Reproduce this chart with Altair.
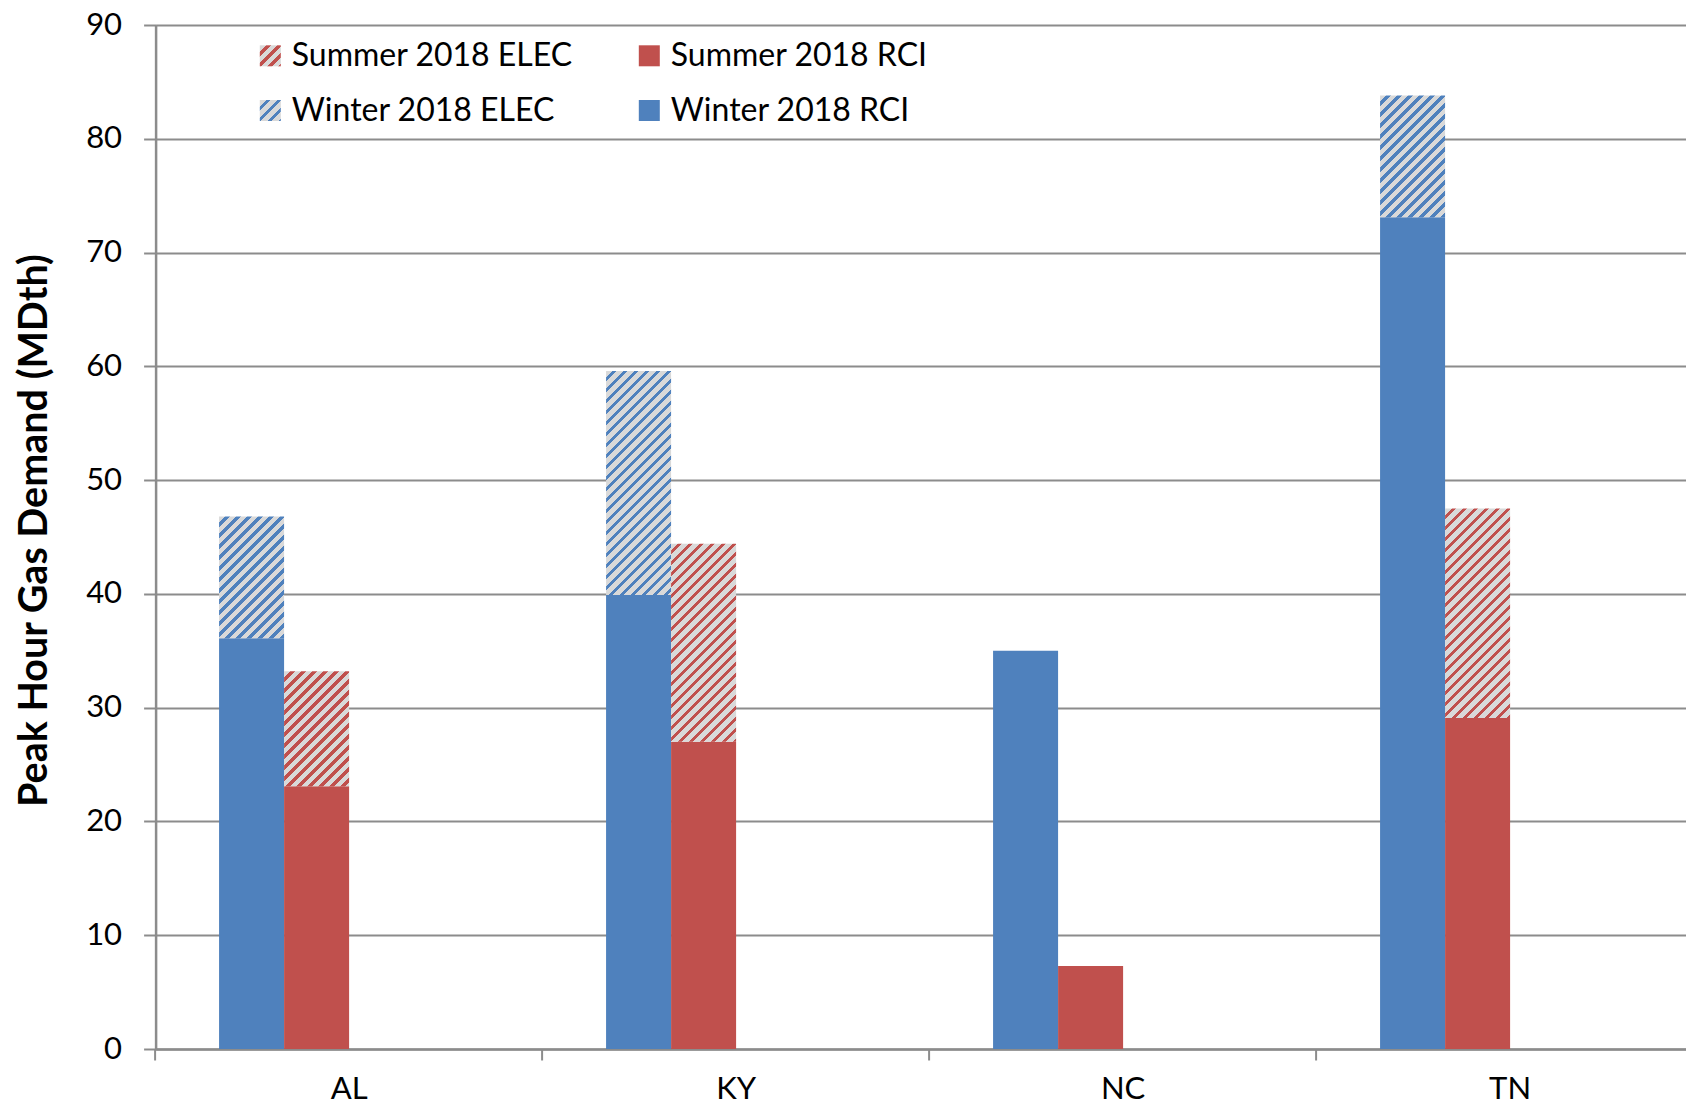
import json
import altair as alt
import pandas as pd

# ---------------- data ----------------
states = ["AL", "KY", "NC", "TN"]
winter_rci = [36.1, 39.9, 35.0, 73.1]
winter_elec = [10.7, 19.7, 0.0, 10.7]
summer_rci = [23.1, 27.0, 7.3, 29.1]
summer_elec = [10.1, 17.4, 0.0, 18.4]

# legend entries, listed column by column (ELEC column, then RCI column)
series_names = ["Summer 2018 ELEC", "Winter 2018 ELEC", "Summer 2018 RCI", "Winter 2018 RCI"]
rci_names = ["Summer 2018 RCI", "Winter 2018 RCI"]
offset_slots = ["Winter", "Summer", "_slot3", "_slot4"]
y_ticks = [0, 10, 20, 30, 40, 50, 60, 70, 80, 90]

BLUE = "#4F81BD"
RED = "#C0504D"
HATCH_BG = "#D9D9D9"
GRID = "#8C8C8C"
FONT = "Lato"

# ---------------- layout ----------------
PAD_L, PAD_T, PAD_B = 147.6, 17, 56
PLOT_W = 1548             # plot runs past the right edge of the picture, as in the reference
PAD_R = -17.6             # clip the part beyond the page width (svg total = 1678 px)
PLOT_H = 1024
Y_MAX = 90
P_INNER = 0.328
P_OUTER = P_INNER / 2
N = len(states)
STEP = PLOT_W / (N - P_INNER + 2 * P_OUTER)
LEFT_GAP = STEP * P_OUTER
BANDW = STEP * (1 - P_INNER)
px_per_unit = PLOT_H / Y_MAX
bar_w = BANDW / len(offset_slots)

rows = []
for i, st in enumerate(states):
    rows.append(dict(state=st, season="Winter", rci=winter_rci[i], elec=winter_elec[i],
                     series="Winter 2018 RCI"))
    rows.append(dict(state=st, season="Summer", rci=summer_rci[i], elec=summer_elec[i],
                     series="Summer 2018 RCI"))
df = pd.DataFrame(rows)


def hatch(color, w, h, period=11.0, frac=0.42):
    """Linear gradient giving 45-degree '/' stripes on a w x h box."""
    total = w + h
    c = total / (w * w + h * h)
    stops = []
    k = 0
    while k * period < total:
        a = k * period / total
        b = min((k * period + period * (1 - frac)) / total, 1.0)
        e = min((k + 1) * period / total, 1.0)
        stops += [{"offset": round(a, 5), "color": HATCH_BG},
                  {"offset": round(b, 5), "color": HATCH_BG},
                  {"offset": round(b, 5), "color": color},
                  {"offset": round(e, 5), "color": color}]
        k += 1
    return {"gradient": "linear", "x1": 0, "y1": 0,
            "x2": round(c * w, 5), "y2": round(c * h, 5), "stops": stops}


x_axis = alt.Axis(title=None, bandPosition=round(-LEFT_GAP / BANDW, 5), grid=False,
                  ticks=True, tickSize=11,
                  tickColor=GRID, tickWidth=2, domainColor=GRID, domainWidth=2.5,
                  labelFont=FONT, labelFontSize=31, labelColor="black", labelAngle=0,
                  labelPadding=38, labelBaseline="alphabetic")
y_axis = alt.Axis(values=y_ticks, grid=True, gridColor=GRID, gridWidth=2,
                  domainColor=GRID, domainWidth=2.5, tickColor=GRID, tickWidth=2,
                  tickSize=12, labelFont=FONT, labelFontSize=31, labelColor="black",
                  labelPadding=22, title="Peak Hour Gas Demand (MDth)", titleFont=FONT,
                  titleFontSize=39.5, titleFontWeight="bold", titleColor="black",
                  titlePadding=31, titleY=505)

x_enc = alt.X("state:N", scale=alt.Scale(domain=states, paddingInner=P_INNER,
                                        paddingOuter=P_OUTER, align=0.5),
              axis=x_axis)
xo_enc = alt.XOffset("season:N", scale=alt.Scale(domain=offset_slots, paddingInner=0,
                                                paddingOuter=0))
y_scale = alt.Scale(domain=[0, Y_MAX], nice=False, zero=True)
color_scale = alt.Scale(domain=rci_names, range=[RED, BLUE])

# legend symbol fills (hatched for ELEC)
sym = 21
leg_expr = ("datum.value === 'Summer 2018 ELEC' ? " + json.dumps(hatch(RED, sym, sym)) +
            " : datum.value === 'Winter 2018 ELEC' ? " + json.dumps(hatch(BLUE, sym, sym)) +
            " : datum.value === 'Summer 2018 RCI' ? '" + RED + "' : '" + BLUE + "'")

legend = alt.Legend(title=None, orient="none", legendX=98.7, legendY=14.8, columns=2,
                    symbolSize=sym * sym, symbolStrokeWidth=0, symbolOpacity=1,
                    labelFont=FONT, labelFontSize=32, labelColor="black", labelOffset=5.5,
                    labelLimit=500, rowPadding=22.7, columnPadding=60, padding=0)

base = alt.Chart(df)

rci_layer = base.mark_bar().encode(
    x=x_enc, xOffset=xo_enc,
    y=alt.Y("rci:Q", stack=None, scale=y_scale, axis=y_axis),
    color=alt.Color("series:N", scale=color_scale, legend=None),
)

layers = [rci_layer]
for i, st in enumerate(states):
    for season, elec_vals, col in (("Winter", winter_elec, BLUE), ("Summer", summer_elec, RED)):
        if elec_vals[i] <= 0:
            continue
        grad = hatch(col, bar_w, elec_vals[i] * px_per_unit)
        layer = base.transform_filter(
            (alt.datum.state == st) & (alt.datum.season == season)
        ).transform_calculate(
            top="datum.rci + datum.elec"
        ).mark_bar(color=grad).encode(
            x=x_enc, xOffset=xo_enc,
            y=alt.Y("top:Q", scale=y_scale, axis=y_axis),
            y2="rci:Q",
        )
        layers.append(layer)

# legend-only layer (draws no marks: its data is filtered out)
legend_layer = base.transform_filter("false").mark_point(
    filled=True, opacity=1, size=sym * sym, color={"expr": leg_expr}
).encode(
    x=x_enc,
    y=alt.Y("rci:Q", stack=None, scale=y_scale, axis=y_axis),
    shape=alt.Shape("series:N", scale=alt.Scale(domain=series_names,
                                                range=["square"] * 4), legend=legend),
)
layers.append(legend_layer)

chart = alt.layer(*layers).properties(
    width=PLOT_W, height=PLOT_H,
    autosize=alt.AutoSizeParams(type="none"),
    padding={"left": PAD_L, "top": PAD_T, "right": PAD_R, "bottom": PAD_B},
).configure_view(stroke=None).configure(background="white")

chart.save("out.html", embed_options={"renderer": "svg", "actions": False})
